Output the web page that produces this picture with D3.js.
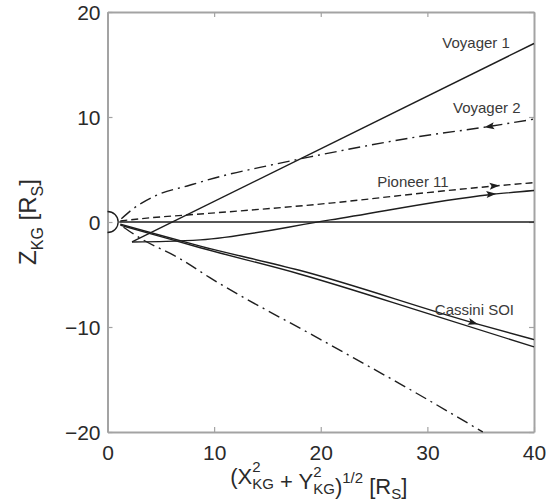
<!DOCTYPE html>
<html>
<head>
<meta charset="utf-8">
<script src="https://cdn.jsdelivr.net/npm/d3@7"></script>
<style>
  html, body { margin: 0; padding: 0; background: #fff; overflow: hidden; }
  svg { display: block; font-family: "Liberation Sans", Arial, Helvetica, sans-serif; }
</style>
</head>
<body>
<div id="chart"></div>
<script>
// axis ticks
const xTicks = [0, 10, 20, 30, 40];
const yTicks = [-20, -10, 0, 10, 20];

// trajectories, [rho, z] in R_S
const voyager1In = [[40, 17.0], [2.3, -1.9]];
const voyager1Out = [[2.3, -1.9], [5.5, -1.85], [8.7, -1.7], [20.9, 0.2], [35.8, 2.6], [40, 3.0]];
const pioneer11 = [[1.2, 0.1], [4, 0.4], [7.5, 0.67], [20.9, 1.8], [30, 2.8], [36, 3.4], [40, 3.75]];
const voyager2In = [[1.3, 0.3], [2.2, 1.1], [3.2, 1.8], [4.5, 2.5], [7.7, 3.5], [11.2, 4.5], [14.3, 5.2], [19, 6.2], [29, 8.1], [35.8, 9.1], [40, 9.8]];
const voyager2Out = [[1.5, -0.5], [3, -1.5], [6.8, -3.5], [9.6, -5.3], [20, -11.2], [30, -16.9], [35.2, -20]];
const cassiniA = [[1.2, -0.2], [4, -1.0], [8.7, -2.3], [18, -4.6], [34.3, -9.6], [40, -11.2]];
const cassiniB = [[1.2, -0.3], [4, -1.1], [8.7, -2.45], [18, -4.95], [30, -8.7], [40, -11.9]];
const equator = [[1.1, 0], [40, 0]];

// arrow heads: position and a point it heads toward
const arrows = [
    { at: [35.8, 9.1], to: [29, 8.1] },
    { at: [36.3, 3.45], to: [40, 3.75] },
    { at: [36.0, 2.65], to: [40, 3.0] },
    { at: [34.3, -9.6], to: [40, -11.2] }
];

const labels = [
    { text: 'Voyager 1', at: [31.4, 16.6] },
    { text: 'Voyager 2', at: [32.4, 10.4] },
    { text: 'Pioneer 11', at: [25.3, 3.3] },
    { text: 'Cassini SOI', at: [30.7, -8.9] }
];

const W = 547, H = 504;
const svg = d3.select('#chart').append('svg')
    .attr('width', W)
    .attr('height', H);

const x = d3.scaleLinear().domain([0, 40]).range([107.5, 534]);
const y = d3.scaleLinear().domain([-20, 20]).range([432, 12]);

const frameColor = '#a3a3a3';
const inkColor = '#1e1e1e';

// frame + ticks
const gx = svg.append('g')
    .attr('transform', `translate(0,${y(-20)})`)
    .call(d3.axisBottom(x).tickValues(xTicks).tickSizeInner(-5).tickSizeOuter(0).tickPadding(13));
const gxTop = svg.append('g')
    .attr('transform', `translate(0,${y(20)})`)
    .call(d3.axisTop(x).tickValues(xTicks).tickSizeInner(-5).tickSizeOuter(0).tickFormat(''));
const gy = svg.append('g')
    .attr('transform', `translate(${x(0)},0)`)
    .call(d3.axisLeft(y).tickValues(yTicks).tickSizeInner(-5).tickSizeOuter(0).tickPadding(7));
const gyRight = svg.append('g')
    .attr('transform', `translate(${x(40)},0)`)
    .call(d3.axisRight(y).tickValues(yTicks).tickSizeInner(-5).tickSizeOuter(0).tickFormat(''));

[gx, gxTop, gy, gyRight].forEach(g => {
    g.select('.domain').attr('stroke', frameColor).attr('stroke-width', 2);
    g.selectAll('.tick line').attr('stroke', frameColor).attr('stroke-width', 1.2);
    g.selectAll('.tick text')
        .attr('fill', '#2a2a2a')
        .attr('font-size', '21px')
        .attr('font-family', '"Liberation Sans", Arial, sans-serif');
});
gy.selectAll('.tick text').attr('dy', '0.36em');

// plot contents
const line = d3.line()
    .x(d => x(d[0]))
    .y(d => y(d[1]))
    .curve(d3.curveMonotoneX);

const series = [
    { data: equator, dash: null },
    { data: voyager1In, dash: null },
    { data: voyager1Out, dash: null },
    { data: cassiniA, dash: null },
    { data: cassiniB, dash: null },
    { data: pioneer11, dash: '7,4' },
    { data: voyager2In, dash: '12,5,2,5' },
    { data: voyager2Out, dash: '12,5,2,5' }
];

const plot = svg.append('g');

plot.selectAll('path.traj')
    .data(series)
    .join('path')
    .attr('class', 'traj')
    .attr('d', d => line(d.data))
    .attr('fill', 'none')
    .attr('stroke', inkColor)
    .attr('stroke-width', 1.4)
    .attr('stroke-dasharray', d => d.dash);

// Saturn (half disc outline on the right of the axis)
const rx = x(1) - x(0), ry = y(0) - y(1);
plot.append('path')
    .attr('d', `M${x(0)},${y(1)} A${rx},${ry} 0 0 1 ${x(0)},${y(-1)}`)
    .attr('fill', 'none')
    .attr('stroke', inkColor)
    .attr('stroke-width', 1.3);

// arrow heads
plot.selectAll('path.arrow')
    .data(arrows)
    .join('path')
    .attr('class', 'arrow')
    .attr('d', 'M5,0 L-5,-3.5 L-3,0 L-5,3.5 Z')
    .attr('fill', inkColor)
    .attr('transform', d => {
        const px = x(d.at[0]), py = y(d.at[1]);
        const ang = Math.atan2(y(d.to[1]) - py, x(d.to[0]) - px) * 180 / Math.PI;
        return `translate(${px},${py}) rotate(${ang})`;
    });

// series labels
plot.selectAll('text.lab')
    .data(labels)
    .join('text')
    .attr('class', 'lab')
    .attr('x', d => x(d.at[0]))
    .attr('y', d => y(d.at[1]))
    .attr('font-size', '15px')
    .attr('fill', '#3a3a3a')
    .text(d => d.text);

// x title: (X^2_KG + Y^2_KG)^1/2 [R_S]
const xt = svg.append('text')
    .attr('x', 0)
    .attr('y', 484)
    .attr('font-size', '22px')
    .attr('fill', '#2a2a2a');

function stacked(t, sup, sub) {
    const supEl = t.append('tspan').attr('font-size', '15px').attr('dy', -12).text(sup);
    const w = supEl.node().getComputedTextLength();
    t.append('tspan').attr('font-size', '15px').attr('dx', -w).attr('dy', 17).text(sub);
    t.append('tspan').attr('dy', -5).text('');
}

xt.append('tspan').text('(X');
stacked(xt, '2', 'KG');
xt.append('tspan').text(' + Y');
stacked(xt, '2', 'KG');
xt.append('tspan').text(')');
xt.append('tspan').attr('font-size', '15px').attr('dy', -11).text('1/2');
xt.append('tspan').attr('dy', 11).text(' [R');
xt.append('tspan').attr('font-size', '15px').attr('dy', 5).text('S');
xt.append('tspan').attr('dy', -5).text(']');

const xtw = xt.node().getBBox().width;
xt.attr('x', (x(0) + x(40)) / 2 - xtw / 2 - 2);

// y title: Z_KG [R_S]
const yt = svg.append('text')
    .attr('transform', `translate(36,${y(0)}) rotate(-90)`)
    .attr('text-anchor', 'middle')
    .attr('font-size', '24px')
    .attr('fill', '#2a2a2a');
yt.append('tspan').text('Z');
yt.append('tspan').attr('font-size', '16px').attr('dy', 7).text('KG');
yt.append('tspan').attr('dy', -7).text(' [R');
yt.append('tspan').attr('font-size', '16px').attr('dy', 7).text('S');
yt.append('tspan').attr('dy', -7).text(']');
</script>
</body>
</html>
